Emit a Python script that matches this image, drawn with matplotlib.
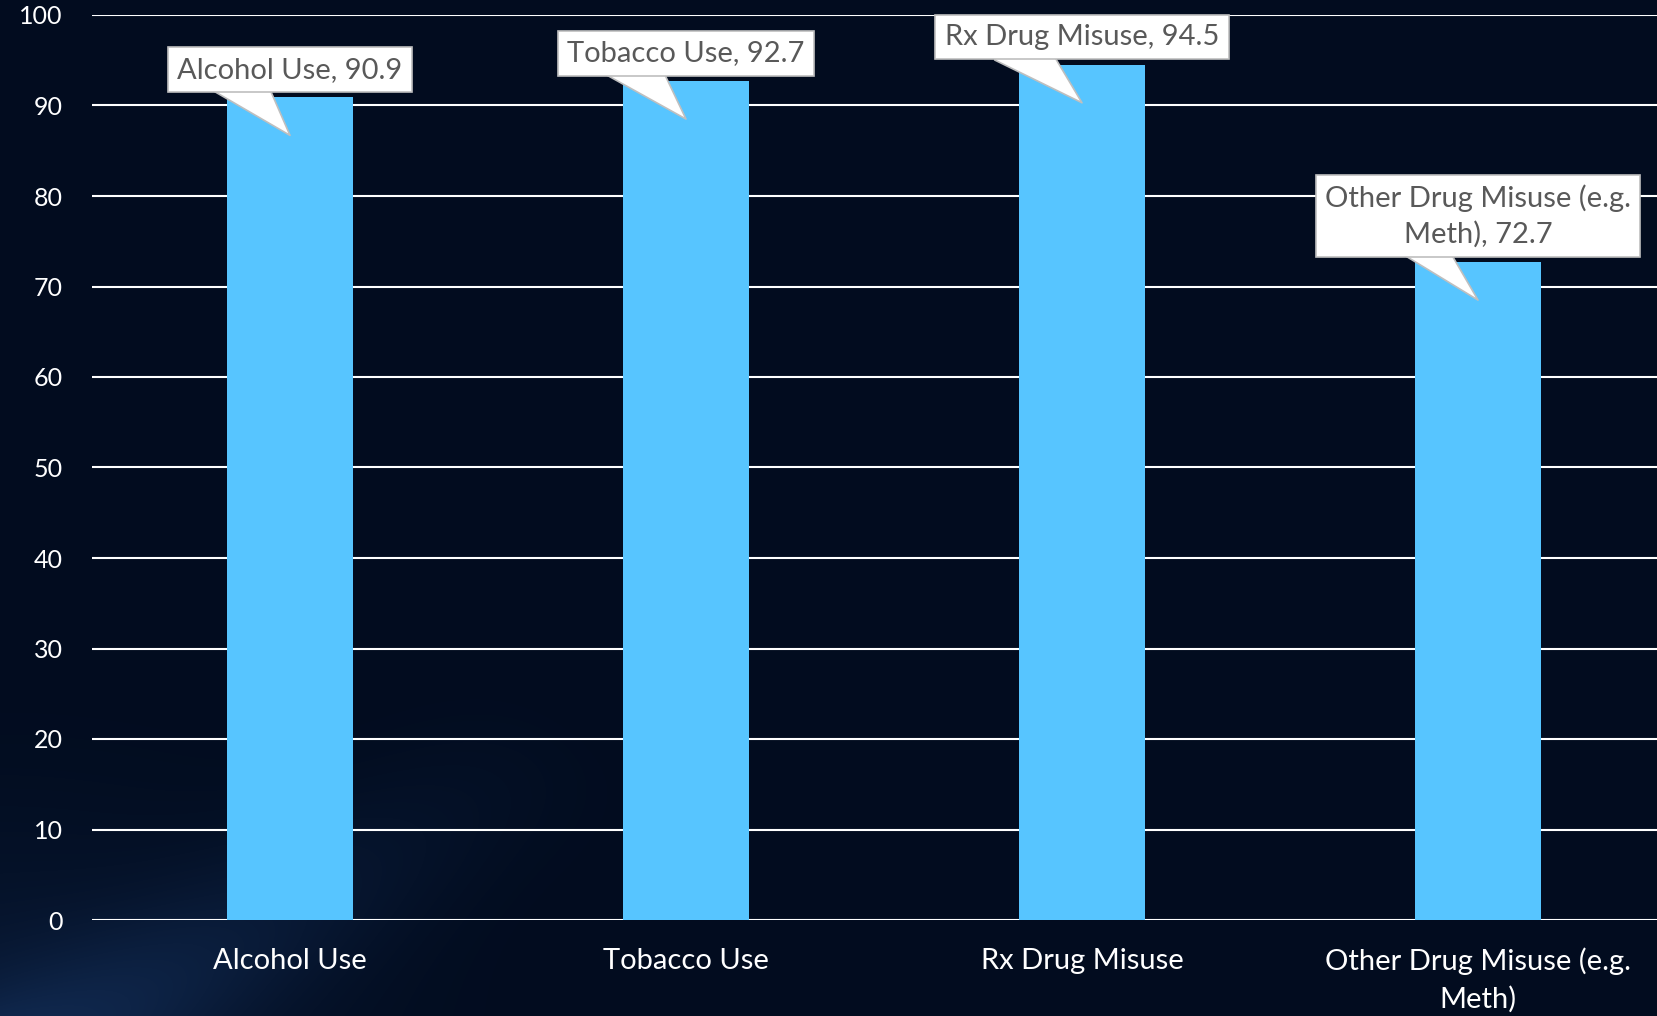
import numpy as np
import matplotlib.pyplot as plt

categories = ['Alcohol Use', 'Tobacco Use', 'Rx Drug Misuse',
              'Other Drug Misuse (e.g.\nMeth)']
values = [90.9, 92.7, 94.5, 72.7]
yticks = [0, 10, 20, 30, 40, 50, 60, 70, 80, 90, 100]

BG = '#020c1f'
BAR = '#57c5ff'
plt.rcParams['font.family'] = ['Lato', 'DejaVu Sans']

W, H = 1658, 1016
fig = plt.figure(figsize=(W / 100, H / 100), dpi=100, facecolor=BG)

# background with a faint light streak at the lower left
bg = fig.add_axes([0, 0, 1, 1], zorder=-10)
yy, xx = np.mgrid[0:H, 0:W]
d = np.hypot(xx / 600.0, (H - yy) / 380.0)
glow = np.clip(1 - d, 0, 1) ** 2
streak = np.exp(-((xx * 0.55 - (H - yy) * 0.9 - 60) / 90.0) ** 2) * np.clip(1 - d * 0.8, 0, 1)
base = np.array([2, 12, 31]) / 255.0
tint = np.array([30, 60, 100]) / 255.0
img = base + (0.25 * glow + 0.3 * streak)[..., None] * tint
bg.imshow(np.clip(img, 0, 1), aspect='auto', extent=[0, 1, 0, 1])
bg.axis('off')

ax = fig.add_axes([92 / W, (H - 920) / H, 1584 / W, 905 / H])
ax.set_facecolor('none')
x = np.arange(len(categories))
ax.bar(x, values, width=0.316, color=BAR, zorder=3)

ax.set_xlim(-0.5, len(categories) - 0.5)
ax.set_ylim(0, 100)
ax.set_yticks(yticks)
ax.set_yticklabels([str(t) for t in yticks])
ax.set_xticks(x)
ax.set_xticklabels(categories)
for s in ax.spines.values():
    s.set_visible(False)
ax.yaxis.grid(True, color='white', linewidth=1.5, zorder=0)
ax.set_axisbelow(True)
ax.tick_params(axis='y', length=0, pad=21, labelsize=18, colors='white')
ax.tick_params(axis='x', length=0, pad=20, labelsize=21, colors='white')
for lab in ax.get_xticklabels():
    lab.set_linespacing(1.5)

for i, (cat, v) in enumerate(zip(categories, values)):
    ax.annotate(f'{cat}, {v}', xy=(i, v - 4.2), xytext=(0, 38),
                textcoords='offset points', ha='center', va='bottom',
                fontsize=21, color='#595959', linespacing=1.4, zorder=5,
                bbox=dict(boxstyle='square,pad=0.32', fc='white',
                          ec='#bfbfbf', lw=1.2),
                arrowprops=dict(arrowstyle='wedge,tail_width=1.9,shrink_factor=0.5',
                                fc='white', ec='#bfbfbf', lw=1.2, patchA=None,
                                relpos=(0.25, 0.4), shrinkA=0, shrinkB=0))

fig.savefig('out.png', dpi=100, facecolor=BG)
